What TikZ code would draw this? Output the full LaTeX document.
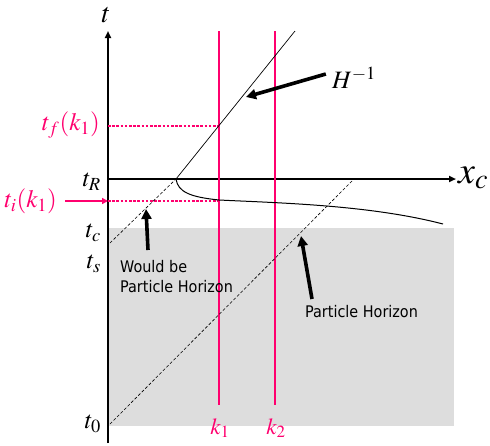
\documentclass[tikz,border=0pt]{standalone}
\usepackage{mathptmx}
\usepackage{fontspec}
\newfontfamily\labelfont{DejaVu Sans Condensed}
\usetikzlibrary{arrows.meta,positioning}
\definecolor{modepink}{RGB}{255,0,110}
\definecolor{shadegray}{RGB}{221,221,221}

\begin{document}
\begin{tikzpicture}[x=1pt, y=-1pt,
  axis/.style={line width=2.6pt, -{Triangle[length=7pt,width=6pt]}},
  mode/.style={modepink, line width=1.6pt},
  crossing/.style={modepink, line width=2.6pt, dash pattern=on 2.6pt off 1.6pt},
  pointer/.style={line width=3.6pt, -{Triangle[length=10pt,width=10pt]}},
  horizon/.style={line width=0.6pt, dash pattern=on 3pt off 2pt},
  mlbl/.style={font=\fontsize{25}{28}\selectfont, inner sep=0pt},
  tlbl/.style={font=\labelfont\fontsize{16}{20}\selectfont, inner sep=0pt, align=left}
]
\useasboundingbox (0,0) rectangle (490,445);

%% Shaded region
\fill[shadegray] (108,228) rectangle (454,426);

%% Axes
\coordinate (orig) at (108,443);
\coordinate (ttop) at (108,31);
\coordinate (xleft) at (108,179);
\coordinate (xright) at (456,179);
\draw[axis] (orig) -- (ttop);
\draw[axis] (xleft) -- (xright);
\node[mlbl, font=\fontsize{28}{30}\selectfont] (tax) at (106,15) {$t$};
\node[mlbl, font=\fontsize{38}{40}\selectfont, anchor=west] (xax) at (458,178) {$x_c$};

%% Time labels
\node[mlbl, anchor=east] (tR) at (101,182) {$t_R$};
\node[mlbl, anchor=east] (tc) at (101,233) {$t_c$};
\node[mlbl, anchor=east] (ts) at (101,264) {$t_s$};
\node[mlbl, anchor=east] (t0) at (101,424) {$t_0$};

%% Modes k1, k2
\coordinate (k1top) at (219,31);
\coordinate (k1bot) at (219,405);
\coordinate (k2top) at (275,31);
\coordinate (k2bot) at (275,405);
\draw[mode] (k1top) -- (k1bot);
\draw[mode] (k2top) -- (k2bot);
\node[mlbl, modepink, font=\fontsize{23}{26}\selectfont] (k1) at (220,428) {$k_1$};
\node[mlbl, modepink, font=\fontsize{23}{26}\selectfont] (k2) at (276,428) {$k_2$};

%% Horizon crossing times
\coordinate (tfaxis) at (108,126);
\coordinate (tfmode) at (219,126);
\coordinate (tiaxis) at (108,201);
\coordinate (timode) at (219,201);
\draw[crossing] (tfaxis) -- (tfmode);
\draw[crossing] (tiaxis) -- (timode);
\node[mlbl, modepink, anchor=east] (tf) at (100,125) {$t_f(k_1)$};
\node[mlbl, modepink, anchor=east] (ti) at (57,201) {$t_i(k_1)$};
\draw[modepink, line width=2.4pt, -{Triangle[length=6pt,width=6pt]}] (ti.east) ++(8pt,0) -- (tiaxis);

%% Hubble radius and horizons
\coordinate (hstart) at (176,179);
\coordinate (htop) at (295,31);
\coordinate (tcpt) at (110,243);
\coordinate (t0pt) at (110,424);
\coordinate (phend) at (353,180);
\draw[line width=0.7pt] (hstart) -- (htop);
\draw[horizon] (tcpt) -- (hstart);
\draw[horizon] (t0pt) -- (phend);
\draw[line width=1pt] (hstart) .. controls (178,192) and (190,197) .. (219,200)
  .. controls (280,203) and (370,205) .. (443,224);

%% Annotations
\node[mlbl] (hinv) at (354,78) {$H^{-1}$};
\coordinate (hinvtip) at (246,97);
\draw[pointer] (hinv.west) ++(-6pt,4pt) -- (hinvtip);

\node[tlbl, anchor=north west] (wbph) at (120,260) {Would be\\Particle Horizon};
\coordinate (wbtip) at (146,209);
\draw[pointer] (148,250) -- (wbtip);

\node[tlbl, anchor=north west] (ph) at (305,305) {Particle Horizon};
\coordinate (phtip) at (301,236);
\draw[pointer] (312,299) -- (phtip);
\end{tikzpicture}
\end{document}
